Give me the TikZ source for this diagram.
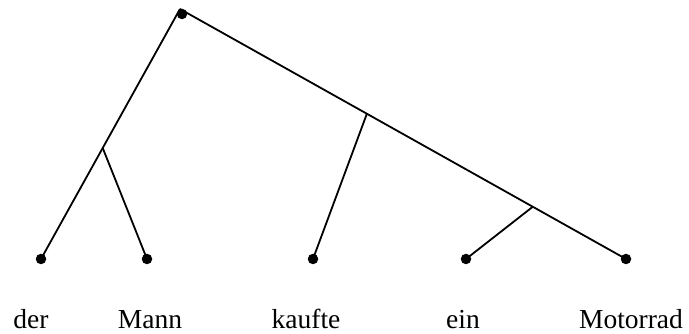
\documentclass[tikz,border=0pt]{standalone}
\usepackage{fontspec}
\setmainfont{Liberation Serif}
\usepackage{tikz}
\usetikzlibrary{positioning,calc}

\begin{document}
\begin{tikzpicture}[
    x=1pt, y=-1pt,
    edge/.style = {draw, line width=1.8pt},
    leaf/.style = {circle, fill=black, minimum size=10.5pt, inner sep=0pt},
    word/.style = {anchor=base, font=\fontsize{27.5}{32}\selectfont, inner sep=0pt},
]
\useasboundingbox (0,0) rectangle (689,334);

% ============ root and leaves ============
\coordinate (apex) at (180,9);
\node[leaf] (root) at (182,14) {};
\node[leaf] (lder)  at (41,259)  {};
\node[leaf] (lmann) at (147,259) {};
\node[leaf] (lkauf) at (313,259) {};
\node[leaf] (lein)  at (466,259) {};
\node[leaf] (lmot)  at (626,259) {};

% ============ main arms ============
\draw[edge] (apex) -- (lder.center) coordinate[pos=0.556] (np);
\draw[edge] (apex) -- (lmot.center) coordinate[pos=0.419] (vp)
                                    coordinate[pos=0.791] (objp);

% ============ inner branches ============
\draw[edge] (np) -- (lmann.center);
\draw[edge] (vp) -- (lkauf.center);
\draw[edge] (objp) -- (lein.center);

% ============ words ============
\node[word] (wder)  at (31,328)  {der};
\node[word] (wmann) at (150,328) {Mann};
\node[word] (wkauf) at (306,328) {kaufte};
\node[word] (wein)  at (463,328) {ein};
\node[word] (wmot)  at (631,328) {Motorrad};

\end{tikzpicture}
\end{document}
